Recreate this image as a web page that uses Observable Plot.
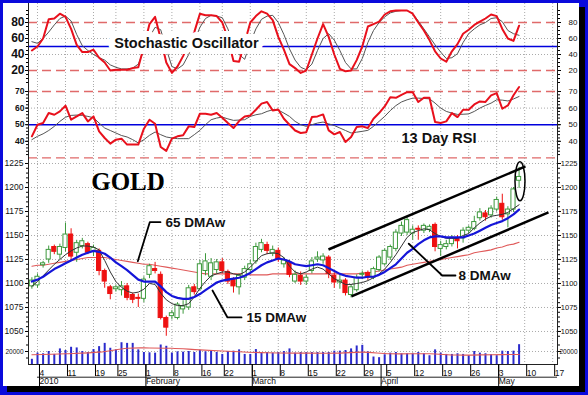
<!DOCTYPE html>
<html><head><meta charset="utf-8">
<script src="https://cdn.jsdelivr.net/npm/d3@7"></script>
<script src="https://cdn.jsdelivr.net/npm/@observablehq/plot@0.6"></script>
<style>
html,body{margin:0;padding:0;}
body{width:588px;height:395px;background:#0a0adc;position:relative;overflow:hidden;font-family:"Liberation Sans",Arial,sans-serif;}
#shadowR{position:absolute;left:579px;top:7px;width:6px;height:385px;background:#000;}
#shadowB{position:absolute;left:7px;top:386px;width:578px;height:6px;background:#000;}
#panel{position:absolute;left:3px;top:3px;width:576px;height:383px;background:#fff;overflow:visible;}
#panel svg{position:absolute;left:0;overflow:visible;}
</style></head><body>
<div id="shadowR"></div><div id="shadowB"></div>
<div id="panel"></div>
<script>
// ---- DATA (trading-day index starts at -1 = 31 Dec 2009) ----
const startIdx = -1;
const open = [1097,1098,1119,1125,1138,1130,1137,1151,1132,1139,1141,1133,1134,1113,1096,1094,1093,1097,1088,1085,
 1084,1109,1115,1109,1064,1066,1064,1073,1075,1096,1094,1113,1107,1114,1122,1112,1104,1096,1106,1114,
 1123,1135,1140,1131,1134,1120,1122,1102,1108,1102,1113,1125,1124,1127,1108,1101,1103,1088,1093,1109,
 1111,1106,1114,1120,1127,1136,1152,1153,1152,1157,1155,1156,1161,1136,1138,1141,1147,1147,1155,1157,
 1168,1173,1171,1177,1183,1172,1177,1207];
const close = [1103,1107,1121,1135,1133,1138,1151,1128,1142,1144,1132,1137,1113,1102,1089,1096,1097,1085,1083,1084,
 1104,1118,1113,1064,1054,1069,1078,1076,1095,1091,1120,1123,1121,1122,1113,1102,1097,1108,1115,1120,
 1138,1142,1134,1135,1125,1124,1109,1109,1102,1106,1123,1127,1128,1110,1101,1103,1090,1096,1106,1110,
 1106,1115,1127,1134,1138,1153,1160,1166,1156,1156,1160,1159,1138,1140,1141,1147,1144,1155,1158,1164,
 1174,1169,1178,1187,1169,1177,1198,1211];
const high = [1106,1110,1123,1139,1140,1141,1163,1157,1145,1147,1143,1140,1136,1115,1098,1098,1102,1100,1090,1089,
 1107,1120,1122,1112,1066,1072,1080,1082,1098,1099,1124,1131,1126,1125,1126,1114,1106,1110,1118,1124,
 1142,1146,1143,1139,1137,1127,1124,1113,1112,1109,1127,1133,1131,1129,1111,1109,1105,1099,1109,1113,
 1113,1117,1129,1136,1140,1156,1164,1170,1160,1160,1162,1161,1163,1144,1145,1150,1150,1158,1160,1170,
 1178,1176,1181,1190,1193,1180,1200,1221];
const low = [1094,1095,1116,1121,1130,1125,1133,1124,1122,1136,1130,1128,1108,1095,1083,1091,1087,1082,1079,1075,
 1080,1105,1110,1062,1045,1062,1062,1068,1072,1088,1092,1108,1103,1110,1110,1099,1090,1088,1103,1110,
 1120,1132,1130,1128,1122,1116,1106,1100,1098,1098,1110,1122,1120,1105,1095,1094,1087,1085,1091,1104,
 1103,1104,1112,1118,1124,1133,1149,1150,1145,1145,1152,1153,1133,1128,1135,1138,1136,1142,1152,1155,
 1165,1165,1168,1175,1166,1158,1174,1199];
const volume = [8000,17500,16500,20000,15500,24000,21500,26500,25500,20000,18500,23000,27500,32500,25000,22500,33500,32500,32500,22500,
 18500,18000,17500,30000,28000,17500,19500,19000,20000,18500,21500,19500,20000,18500,15500,20000,20500,22500,15500,15500,
 23000,18500,18500,17500,18500,20000,24000,17500,18500,18500,18500,18500,18500,18500,20500,20500,21500,24000,28500,29500,
 19500,11500,10500,15000,17500,18500,16500,16500,16500,18500,16500,13500,22500,17500,15500,15500,16500,15500,13500,20000,
 17500,16500,15000,13500,20500,20000,20500,30500];
const ma15 = [1102,1104,1107,1111,1115,1118,1121,1124,1127,1130,1132,1134,1133,1131,1127,1122,1118,1114,1109,1104,
 1102,1102,1102,1097,1091,1087,1085,1084,1084,1086,1089,1093,1097,1101,1103,1104,1105,1106,1108,1111,
 1115,1119,1122,1124,1126,1125,1123,1120,1119,1118,1119,1120,1119,1116,1113,1110,1108,1107,1106,1106,
 1107,1107,1109,1112,1116,1120,1126,1132,1136,1141,1145,1148,1149,1149,1148,1148,1148,1148,1150,1152,
 1155,1158,1161,1163,1165,1168,1172,1177];
const ma8 = [1097,1102,1108,1114,1120,1125,1130,1134,1137,1139,1139,1138,1135,1124,1112,1102,1096,1092,1090,1091,
 1094,1100,1099,1090,1083,1079,1077,1077,1079,1086,1095,1102,1108,1110,1112,1112,1110,1109,1112,1117,
 1123,1129,1131,1132,1131,1127,1118,1112,1110,1112,1115,1117,1115,1110,1105,1102,1099,1099,1100,1101,
 1103,1106,1110,1115,1122,1130,1139,1148,1153,1155,1157,1156,1152,1149,1147,1147,1147,1150,1152,1158,
 1163,1167,1170,1171,1172,1174,1178,1182];
const ma65 = [1118,1119,1119,1120,1121,1122,1123,1124,1125,1126,1127,1127,1127,1127,1126,1125,1124,1123,1122,1121,
 1120,1120,1119,1118,1117,1116,1115,1114,1113,1112,1111,1110,1110,1110,1110,1110,1110,1110,1110,1109,
 1109,1109,1109,1110,1110,1110,1110,1110,1110,1110,1110,1110,1110,1110,1110,1110,1110,1110,1110,1111,
 1111,1112,1113,1114,1115,1116,1117,1119,1120,1121,1122,1123,1124,1125,1126,1127,1128,1129,1130,1132,
 1133,1134,1135,1137,1138,1140,1141,1143];
const stochK = [45,50,60,84,85,91,87,72,52,43,43,46,36,30,20,21,21,21,23,24,
 50,78,87,60,30,17,25,38,55,68,91,89,89,88,80,60,32,31,55,80,
 88,94,91,83,62,46,28,23,17,20,40,60,78,62,40,22,19,20,33,50,
 75,78,81,90,94,95,95,95,91,80,70,58,44,35,31,44,53,66,71,77,
 81,85,90,88,72,60,57,76];
const stochD = [56,54,60,68,77,85,88,82,65,51,45,40,36,33,27,24,22,22,23,28,
 45,62,74,71,47,25,22,27,40,56,74,85,89,88,86,72,52,40,34,55,
 72,84,88,89,80,65,47,33,24,21,28,45,60,66,58,45,30,22,22,35,
 55,70,80,87,92,94,95,95,91,82,72,62,52,43,35,36,41,55,66,72,
 77,80,85,86,81,70,66,64];
const rsi = [43,50,51,57,56,58,61.5,53,55,57,52,55,46,42,38.6,41,41.6,38,38,38,
 47.6,53,50.6,36.6,34.2,41.6,43,43.6,49,48.6,56.6,56.6,56,57,54.2,51,48,52.2,55,55.6,
 59,62.7,63.7,58.6,59.2,53.6,50,46.5,45,45.5,54.6,55,56.2,46.6,44.2,45.6,39.6,42.6,48.6,49,
 48,53.6,57,61,66.6,66.2,68,69.6,69.6,63.7,66.2,66.2,51.6,51,52,57,54.6,59,59,62.2,
 64,63.7,67.7,69,59.6,61.6,67.7,72.7];
const rsiAvg = [41,43,44.5,46.5,49,52,54.5,55.6,55.8,55.6,55,54.2,51,48,46.5,45,43.5,42.6,41,39,
 41,43.6,45.6,44,42.6,42,41.6,41.6,41.6,44,46.6,50,53,54,54.6,53.5,52.6,52.8,53,55,
 56,56.6,58,59,58.8,57,55,52,50,49,50,51,51.6,50.5,49.5,48,46.5,45,45.5,46,
 46.6,49,52,55,58.5,61.5,63.7,65,66,66,65.8,65.6,63,60,58,57,56.2,56.3,56.5,58,
 60,61.6,63,65,64.8,64.3,65.5,67];
const volMaIdx = [-1,5,11,16,20,24,29,35,41,47,54,58,63,70,75,81,86];
const volMa = [15000,16500,19000,25000,25500,25000,22500,20000,18000,17500,17500,19000,16500,16500,14500,15000,15500];

// tick labels
const weekIdx = [0,5,10,14,19,24,29,33,38,43,48,53,58,62,67,72,77,82,87,92];
const weekLbl = ["4","11","19","25","1","8","16","22","1","8","15","22","29","5","12","19","26","3","10","17"];
const monthIdx = [0,19,38,61,82];
const monthLbl = ["2010","February","March","April","May"];
const stochTicks = [20,40,60,80];
const rsiTicks = [40,50,60,70];
const priceTicks = [1050,1075,1100,1125,1150,1175,1200,1225];
const volTicks = [20000];

// annotations (data units)
const titles = ["Stochastic Oscillator","13 Day RSI","GOLD"];
const labelTxt = ["65 DMAw","15 DMAw","8 DMAw"];
const labelX = [22.68, 37.14, 75.0];
const labelY = [1163.7, 1064.6, 1108.3];
const leaderX = [[21.96,20.05,17.91],[36.43,33.93,31.25],[74.64,72.27,66.3]];
const leaderY = [[1163.9,1163.9,1123.2],[1064.6,1064.6,1092.7],[1108.3,1108.3,1141.4]];
const chanX1 = [51.96, 56.07], chanY1 = [1135.4, 1086.5];
const chanX2 = [87.14, 91.25], chanY2 = [1221.9, 1174.0];
const ellX = 86.25, ellY = 1206;

// ---- build tables ----
const days = open.map((o,k)=>({i:k+startIdx, open:o, close:close[k], high:high[k], low:low[k],
  vol:volume[k], ma8:ma8[k], ma15:ma15[k], ma65:ma65[k], k:stochK[k], d:stochD[k], rsi:rsi[k], rsiAvg:rsiAvg[k]}));
const volMaData = volMaIdx.map((i,k)=>({i, v:volMa[k]}));
const leaders = leaderX.flatMap((xs,g)=>xs.map((x,k)=>({g, x, y:leaderY[g][k]})));
const labels = labelTxt.map((t,k)=>({t, x:labelX[k], y:labelY[k]}));
const channels = chanX1.map((x,k)=>({x1:x, y1:chanY1[k], x2:chanX2[k], y2:chanY2[k]}));

const W = 576, ML = 25, MR = 22;
const xDomain = [-1.607, 92.86];
const FONT = "Liberation Sans, Arial, sans-serif";
const GREEN = "#3d993d", RED = "#ee1111";
const gridS = {stroke:"#aaa", strokeDasharray:"1,2", strokeOpacity:1};
const dashS = {stroke:"#e06a6a", strokeDasharray:"9,5", strokeWidth:1.3};
const blueS = {stroke:"#0000dd", strokeWidth:1.6};
const style = {background:"transparent", fontFamily:FONT, overflow:"visible"};
const plain = d => String(d);

function yAxes(ticks, minor, leftOpts, rightOpts){
  return [
    Plot.axisY(minor, {anchor:"left", tickSize:2, tickFormat:()=>"", label:null}),
    Plot.axisY(minor, {anchor:"right", tickSize:2, tickFormat:()=>"", label:null}),
    Plot.axisY(ticks, Object.assign({anchor:"left", tickSize:3, tickPadding:1, tickFormat:plain, label:null, fill:"#111", fontFamily:FONT}, leftOpts)),
    Plot.axisY(ticks, Object.assign({anchor:"right", tickSize:3, tickPadding:17, textAnchor:"end", tickFormat:plain, label:null, fill:"#111", fontFamily:FONT}, rightOpts)),
    Plot.frame({anchor:"left", stroke:"#222"}),
    Plot.frame({anchor:"right", stroke:"#222"})
  ];
}
function place(svg, top){ svg.style.top = top + "px"; document.getElementById("panel").appendChild(svg); return svg; }

// ---- Stochastic ----
place(Plot.plot({
  width:W, height:83, marginLeft:ML, marginRight:MR, marginTop:0, marginBottom:0, style,
  x:{domain:xDomain, axis:null}, y:{domain:[0,103.75]},
  marks:[
    Plot.gridX(weekIdx, gridS), Plot.gridY([40,60], gridS),
    Plot.ruleY([20,80], dashS), Plot.ruleY([50], blueS),
    Plot.line(days, {x:"i", y:"d", stroke:"#555", strokeWidth:1}),
    Plot.line(days, {x:"i", y:"k", stroke:"#e8101c", strokeWidth:2}),
    Plot.text([titles[0]], {x:26.6, y:53.75, text:d=>d, fontSize:14.5, fontWeight:"bold", fill:"#111", stroke:"white", strokeWidth:12, fontFamily:FONT}),
    ...yAxes(stochTicks, d3.range(5,100,5), {fontSize:12, fontWeight:"bold"}, {fontSize:8})
  ]
}), 0);

// ---- RSI ----
place(Plot.plot({
  width:W, height:72, marginLeft:ML, marginRight:MR, marginTop:0, marginBottom:0, style,
  x:{domain:xDomain, axis:null}, y:{domain:[29.64,73.01]},
  marks:[
    Plot.gridX(weekIdx, gridS), Plot.gridY([40,60], gridS),
    Plot.ruleY([30,70], dashS), Plot.ruleY([50], blueS),
    Plot.line(days, {x:"i", y:"rsiAvg", stroke:"#555", strokeWidth:1}),
    Plot.line(days, {x:"i", y:"rsi", stroke:"#e8101c", strokeWidth:2}),
    Plot.text([titles[1]], {x:71.7, y:41.6, text:d=>d, fontSize:14.5, fontWeight:"bold", fill:"#111", stroke:"white", strokeWidth:4, fontFamily:FONT}),
    ...yAxes(rsiTicks, d3.range(32,72,2), {fontSize:8.5, fontWeight:"bold"}, {fontSize:8})
  ]
}), 83);

// ---- Price ----
const pricePlot = place(Plot.plot({
  width:W, height:182, marginLeft:ML, marginRight:MR, marginTop:0, marginBottom:0, style,
  x:{domain:xDomain, axis:null}, y:{domain:[1040.6,1230.2]},
  marks:[
    Plot.gridX(weekIdx, gridS), Plot.gridY(priceTicks, gridS),
    Plot.line(days, {x:"i", y:"ma65", stroke:"#e05a5a", strokeWidth:1.1}),
    Plot.ruleX(days, {x:"i", y1:"low", y2:"high", stroke:d=>d.close>=d.open?GREEN:RED, strokeWidth:1}),
    Plot.rect(days, {x1:d=>d.i-0.37, x2:d=>d.i+0.37, y1:"open", y2:"close",
      fill:d=>d.close>=d.open?"#ffffff":RED, stroke:d=>d.close>=d.open?GREEN:RED, strokeWidth:1}),
    Plot.line(days, {x:"i", y:"ma8", stroke:"#333", strokeWidth:1}),
    Plot.line(days, {x:"i", y:"ma15", stroke:"#1515d8", strokeWidth:2.2}),
    Plot.link(channels, {x1:"x1", y1:"y1", x2:"x2", y2:"y2", stroke:"#000", strokeWidth:2.5}),
    Plot.line(leaders, {x:"x", y:"y", z:"g", stroke:"#000", strokeWidth:1.8}),
    Plot.text(labels, {x:"x", y:"y", text:"t", textAnchor:"start", dx:1, fontSize:13.5, fontWeight:"bold", fill:"#111", stroke:"white", strokeWidth:3, fontFamily:FONT}),
    Plot.text([titles[2]], {x:16.16, y:1205.2, text:d=>d, fontSize:25, fontWeight:"bold", fill:"#000", fontFamily:"Liberation Serif, Times New Roman, serif"}),
    ...yAxes(priceTicks, d3.range(1045,1230,5), {fontSize:8.5, tickPadding:2}, {fontSize:7.5})
  ]
}), 155);

// ellipse around last candle, positioned with Plot's own scales
(function(){
  const sx = pricePlot.scale("x"), sy = pricePlot.scale("y");
  const fx = sx.apply ? v=>sx.apply(v) : d3.scaleLinear(sx.domain, sx.range);
  const fy = sy.apply ? v=>sy.apply(v) : d3.scaleLinear(sy.domain, sy.range);
  d3.select(pricePlot).append("ellipse").attr("cx", fx(ellX)).attr("cy", fy(ellY))
    .attr("rx", 5).attr("ry", 19.5).attr("fill", "none").attr("stroke", "#000").attr("stroke-width", 1.5);
})();

// ---- Volume + date axis ----
place(Plot.plot({
  width:W, height:46, marginLeft:ML, marginRight:MR, marginTop:0, marginBottom:22, style,
  x:{domain:xDomain}, y:{domain:[0,36923]},
  marks:[
    Plot.gridX(weekIdx, gridS), Plot.gridY(volTicks, gridS),
    Plot.ruleX(days, {x:"i", y1:0, y2:"vol", stroke:"#2a2acc", strokeWidth:2}),
    Plot.line(volMaData, {x:"i", y:"v", stroke:"#e05a5a", strokeWidth:1.1, curve:"catmull-rom"}),
    Plot.frame({anchor:"bottom", stroke:"#222"}),
    Plot.ruleY([0], {x1:0, x2:xDomain[1], dy:12.7, stroke:"#222"}),
    Plot.axisX(weekIdx, {anchor:"bottom", tickSize:12, tickPadding:-7, textAnchor:"start", dx:2,
      tickFormat:d=>weekLbl[weekIdx.indexOf(d)], fontSize:8.5, fill:"#111", label:null, fontFamily:FONT}),
    Plot.axisX(monthIdx, {anchor:"bottom", tickSize:22, tickPadding:-8.5, textAnchor:"start", dx:2,
      tickFormat:d=>monthLbl[monthIdx.indexOf(d)], fontSize:8.5, fill:"#111", label:null, fontFamily:FONT}),
    ...yAxes(volTicks, [10000,30000], {fontSize:6.5, tickPadding:2}, {fontSize:6.5})
  ]
}), 337);
</script></body></html>
